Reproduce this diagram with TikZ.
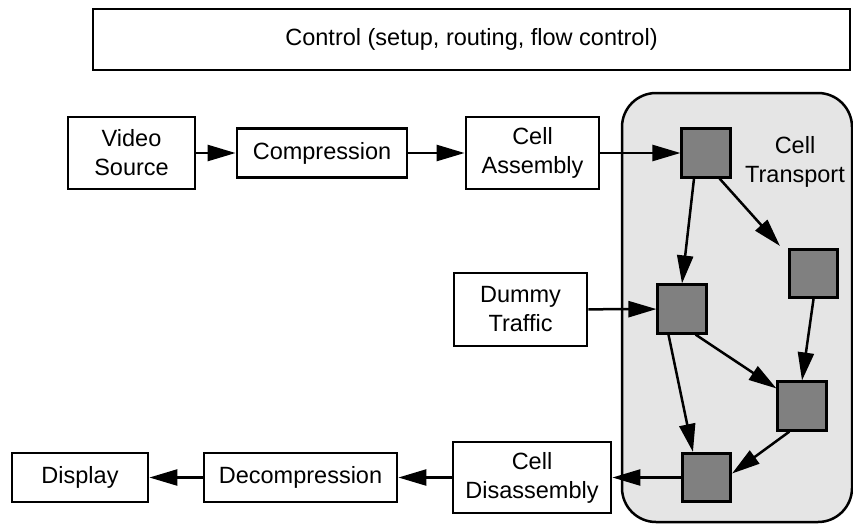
\documentclass[tikz,border=0pt]{standalone}
\usepackage{fontspec}
\setmainfont{Liberation Sans}
\usetikzlibrary{arrows.meta,calc}
\definecolor{panelgray}{HTML}{E5E5E5}
\definecolor{cellgray}{HTML}{808080}
\tikzset{
  box/.style={draw=black, line width=2.8pt, fill=white, inner sep=0pt, align=center,
    font=\fontsize{23.5}{29}\selectfont},
  cell/.style={draw=black, line width=2.6pt, fill=cellgray, inner sep=0pt,
    minimum width=48.5, minimum height=48.5},
  arr/.style={line width=2.5pt, -{Triangle[length=28pt,width=16pt]}},
  panel/.style={draw=black, line width=2.5pt, fill=panelgray, rounded corners=34pt, inner sep=0pt},
  lbl/.style={align=center, inner sep=0pt, font=\fontsize{23.5}{29}\selectfont}
}
\begin{document}
\begin{tikzpicture}[x=1pt,y=-1pt]
\useasboundingbox (0,0) rectangle (853,525);
\fill[white] (0,0) rectangle (853,525);
% control
\node[box, minimum width=757, minimum height=61] (ctrl) at (471.5,39.5) {Control (setup, routing, flow control)};
% cell transport panel
\node[panel, minimum width=230, minimum height=429] (ct) at (737,307.5) {};
\node[lbl] (ctl) at (795,162) {Cell\\Transport};
% boxes
\node[box, minimum width=127, minimum height=72] (vs) at (131.5,153) {Video\\Source};
\node[box, minimum width=170, minimum height=49] (comp) at (322,153) {Compression};
\node[box, minimum width=133, minimum height=72] (ca) at (532.5,153) {Cell\\Assembly};
\node[box, minimum width=133, minimum height=73] (dt) at (520.5,309.5) {Dummy\\Traffic};
\node[box, minimum width=158, minimum height=71] (cd) at (532,477.5) {Cell\\Disassembly};
\node[box, minimum width=193, minimum height=49] (dec) at (300.5,477.5) {Decompression};
\node[box, minimum width=136, minimum height=49] (disp) at (80,477.5) {Display};
% cells
\node[cell] (s1) at (706,153) {};
\node[cell] (s2) at (813.5,273.5) {};
\node[cell] (s3) at (682,309) {};
\node[cell] (s4) at (802,406) {};
\node[cell] (s5) at (706.5,477.5) {};
% connectors
\draw[arr] (vs) -- (comp);
\draw[arr] (comp) -- (ca);
\draw[arr] (ca) -- (s1);
\draw[arr] (dt) -- (s3);
\draw[arr] (s5) -- (cd);
\draw[arr] (cd) -- (dec);
\draw[arr] (dec) -- (disp);
\draw[arr] ($(s1.south)+(-12,0)$) -- (s3.north);
\draw[arr] ($(s1.south east)+(-12,0)$) -- ($(s2.north west)+(-8,-2)$);
\draw[arr] (s2.south) -- (s4.north);
\draw[arr] ($(s3.south east)+(-12,0)$) -- ($(s4.north west)+(0,8)$);
\draw[arr] ($(s3.south west)+(12,0)$) -- ($(s5.north west)+(12,0)$);
\draw[arr] ($(s4.south west)+(13,0)$) -- ($(s5.east)+(0,-4)$);
\end{tikzpicture}
\end{document}
